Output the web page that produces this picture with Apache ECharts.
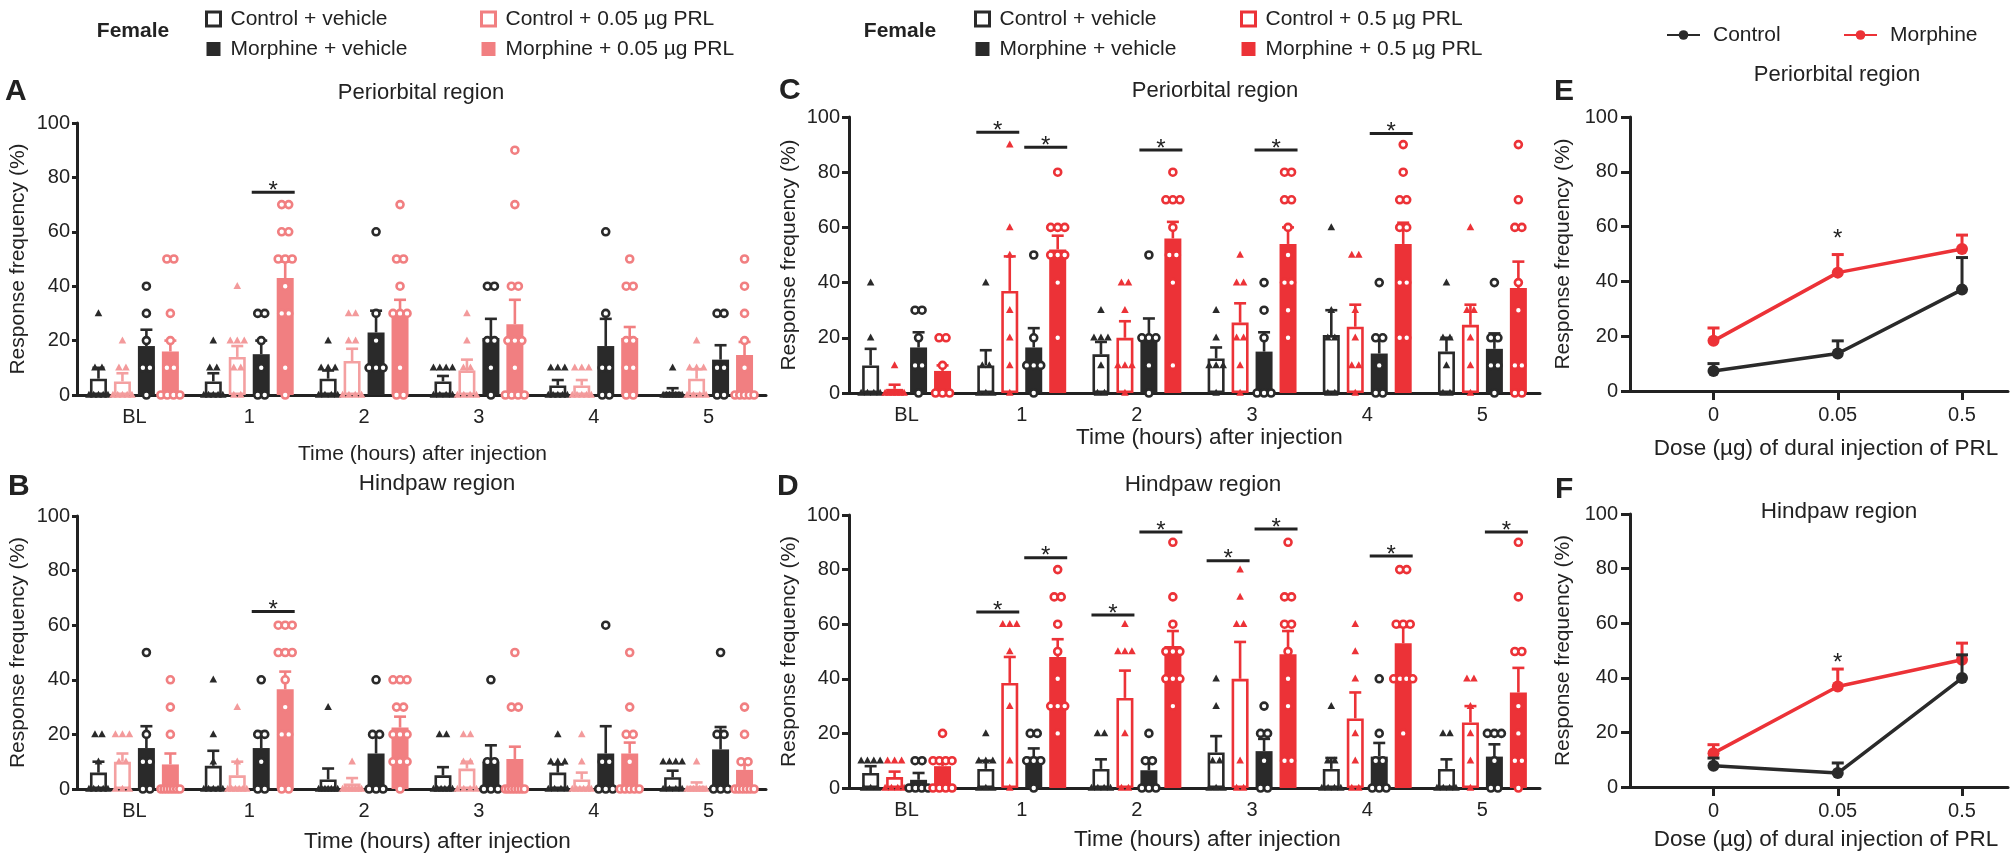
<!DOCTYPE html>
<html><head><meta charset="utf-8">
<script src="https://cdn.jsdelivr.net/npm/echarts@6/dist/echarts.min.js"></script>
<style>html,body{margin:0;padding:0;background:#fff}#c{width:2010px;height:858px}</style>
</head><body><div id="c"></div>
<script>
// ---------------- DATA ----------------
const hours = ['BL','1','2','3','4','5'];
const doseLabels = ['0','0.05','0.5'];

// Panel A (periorbital, 0.05 µg) : mean and SEM per time point
const A_CV_mean = [6,5,6,5,3.5,1.2];      const A_CV_sem = [4,3,3,2,2,1.3];
const A_CP_mean = [5,14,12.5,9,3.5,6];    const A_CP_sem = [3,4,4.5,4,2,3.5];
const A_MV_mean = [18,15,23,21,18,13];    const A_MV_sem = [6,5,8,7,10,5.3];
const A_MP_mean = [16,43,31,26,21,14.7];  const A_MP_sem = [4,6,4,9,4,4.8];
const A_CV_pts = [[30,10,10,0,0,0,0,0],[20,10,10,0,0,0,0,0],[20,10,10,10,0,0,0,0],[10,10,10,10,0,0,0,0],[10,10,10,0,0,0,0,0],[10,0,0,0,0,0,0,0]];
const A_CP_pts = [[20,10,10,0,0,0,0,0],[40,20,20,20,10,10,0,0],[30,30,20,20,0,0,0,0],[30,20,10,10,0,0,0,0],[10,10,10,0,0,0,0,0],[20,10,10,10,0,0,0,0]];
const A_MV_pts = [[40,30,20,10,10,0],[30,30,20,10,0,0],[60,30,20,10,10,10],[40,40,20,20,10,0],[60,30,10,10,0,0],[30,30,10,10,0,0]];
const A_MP_pts = [[50,50,30,20,10,10,0,0,0,0],[70,70,60,60,50,50,50,40,30,30,10,0],[70,50,50,40,30,30,30,10,0,0],[90,70,40,40,20,20,20,10,0,0,0,0],[50,40,40,20,20,10,10,0,0],[50,40,30,20,10,0,0,0,0,0]];
const A_sig = [[1,1,74.5]];

// Panel B (hindpaw, 0.05 µg)
const B_CV_mean = [6,8.5,3.5,5,6,4.3];    const B_CV_sem = [4,5.5,4,3,3,2.4];
const B_CP_mean = [10,5,2,7.5,3.5,1.2];   const B_CP_sem = [3,5,2,2.5,2.5,1.2];
const B_MV_mean = [15,15,13,10,13,14.5];  const B_MV_sem = [8,6,7,6,10,8.2];
const B_MP_mean = [9,36.5,22.5,11,13,7];  const B_MP_sem = [4,6.5,4,4.5,4,3.3];
const B_CV_pts = [[20,20,10,0,0,0,0,0],[40,20,10,0,0,0,0,0],[30,0,0,0,0,0,0,0],[20,20,0,0,0,0,0,0],[20,10,10,10,0,0,0,0],[10,10,10,10,0,0,0,0]];
const B_CP_pts = [[20,20,20,10,10,0,0,0],[30,10,0,0,0,0,0,0],[10,0,0,0,0,0,0,0],[20,20,10,10,0,0,0,0],[20,10,0,0,0,0,0,0],[10,0,0,0,0,0,0,0]];
const B_MV_pts = [[50,20,10,10,0,0],[40,20,20,10,0,0],[40,20,20,0,0,0],[40,10,10,0,0,0],[60,10,10,0,0,0],[50,20,20,0,0,0]];
const B_MP_pts = [[40,30,20,0,0,0,0,0,0,0],[60,60,60,50,50,50,40,30,20,20,0,0],[40,40,40,30,30,20,20,20,10,10,10,0],[50,30,30,0,0,0,0,0,0,0],[50,30,20,20,10,0,0,0,0,0],[30,20,10,10,0,0,0,0,0,0]];
const B_sig = [[1,1,65]];

// Panel C (periorbital, 0.5 µg)
const C_CV_mean = [10,10,14,12.5,21,15];    const C_CV_sem = [6,5.5,4.5,4,9,5];
const C_CP_mean = [1.5,37,20,25.5,24,24.7]; const C_CP_sem = [1.5,12.5,6,7,8,7.3];
const C_MV_mean = [16.5,16.5,21,15,14.3,16];const C_MV_sem = [5.5,7,6,7,6.1,5.6];
const C_MP_mean = [8,52,56,54,54,38];       const C_MP_sem = [2,5,6,6,7.7,9.6];
const C_CV_pts = [[40,20,0,0,0,0],[40,10,10,0,0,0],[30,20,20,20,10,0,0],[30,20,10,10,10,0],[60,30,20,20,0,0],[40,20,20,10,0,0]];
const C_CP_pts = [[10,0,0,0,0,0,0],[90,60,50,30,20,10,0],[40,40,30,10,10,10,0],[50,40,40,20,20,10,0],[50,50,30,20,10,10,0],[60,30,30,20,10,0]];
const C_MV_pts = [[30,30,20,10,10,0],[50,20,10,10,10,0],[50,20,20,20,10,0],[40,30,20,0,0,0],[40,20,20,10,0,0],[40,20,20,10,10,0]];
const C_MP_pts = [[20,20,10,0,0,0],[80,60,60,60,50,50,50,40,20],[80,70,70,70,60,50,50,40,10],[80,80,70,70,60,50,40,40,30,20],[90,80,70,70,60,60,40,40,20,20],[90,70,60,60,40,30,10,10,0,0]];
const C_sig = [[1,0,94.5],[1,1,89],[2,1,88],[3,1,88],[4,1,94]];

// Panel D (hindpaw, 0.5 µg)
const D_CV_mean = [5.5,7,7,13,7,7];         const D_CV_sem = [2.5,3,3.5,6,4,3.5];
const D_CP_mean = [4,38.5,33,40,25.5,24];   const D_CP_sem = [2,9.5,10,13.5,9.5,6];
const D_MV_mean = [3,11.5,6.5,13.5,11.5,11.5]; const D_MV_sem = [2.5,3,3.5,4.5,5,4.5];
const D_MP_mean = [8,48,52,49,53,35];       const D_MP_sem = [2,6.5,5.5,8.5,6,9];
const D_CV_pts = [[10,10,10,10,0,0,0],[20,10,10,10,0,0,0],[20,20,0,0,0,0],[40,30,10,10,0,0,0],[30,10,10,0,0,0,0],[20,20,0,0,0,0]];
const D_CP_pts = [[10,10,10,0,0,0,0],[60,60,60,50,30,10,0],[60,50,50,50,20,0,0],[80,70,60,60,10,0,0],[60,50,40,20,10,0,0],[40,40,30,20,10,0]];
const D_MV_pts = [[10,10,0,0,0,0],[20,20,10,10,10,0],[20,10,10,0,0,0],[30,20,20,10,0,0],[40,20,10,10,0,0,0],[20,20,20,10,0,0]];
const D_MP_pts = [[20,10,10,10,10,0,0,0,0],[80,70,70,60,50,40,30,30,30,20],[90,70,60,50,50,50,40,40,40,30],[90,70,70,60,60,50,40,30,10,10],[80,80,60,60,60,40,40,40,40,20],[90,70,50,50,30,20,10,10,0]];
const D_sig = [[1,0,64.5],[1,1,84.3],[2,0,63.4],[2,1,93.8],[3,0,83.2],[3,1,94.9],[4,1,85],[5,1,93.8]];

// Panels E, F (dose response)
const E_ctrl_mean = [7.3,13.7,37];   const E_ctrl_sem = [2.7,4.6,11.7];
const E_morph_mean = [18.3,43.2,51.8]; const E_morph_sem = [4.7,6.6,5.1];
const F_ctrl_mean = [7.8,5.1,39.9];  const F_ctrl_sem = [2.8,3.7,8.5];
const F_morph_mean = [12.4,36.8,46.6]; const F_morph_sem = [3.1,6.4,6.1];
const E_star = [[1,57]];
const F_star = [[1,47]];

// ---------------- STYLE ----------------
const FONT = '"Liberation Sans", Arial, sans-serif';
const INK = '#222222';
const BLACK = '#2a2a2a';
const PINK_OPEN = '#F4A0A1';
const PINK = '#F17F81';
const RED = '#EC3237';
const BAR_W = 17, BAR_GAP = 0.41;
function barOffset(g){ const gap = BAR_W*BAR_GAP; const total = 4*BAR_W + 3*gap; return -total/2 + g*(BAR_W+gap) + BAR_W/2; }

const names05 = ['Control + vehicle','Control + 0.05 µg PRL','Morphine + vehicle','Morphine + 0.05 µg PRL'];
const names5 = ['Control + vehicle','Control + 0.5 µg PRL','Morphine + vehicle','Morphine + 0.5 µg PRL'];

const opt = {
  animation:false, backgroundColor:'#fff',
  textStyle:{fontFamily:FONT},
  grid:[
    {left:77, top:123, width:689, height:272},
    {left:77, top:516, width:689, height:273},
    {left:849, top:117, width:691, height:276},
    {left:849, top:515, width:691, height:273},
    {left:1630, top:117, width:378, height:274},
    {left:1630, top:514, width:378, height:273}
  ],
  xAxis:[], yAxis:[], series:[], legend:[], graphic:[]
};

function yAx(gi, tickLen, margin, nameGap){
  return {type:'value', gridIndex:gi, min:0, max:100, interval:20,
    name:'Response frequency (%)', nameLocation:'middle', nameGap:nameGap,
    nameTextStyle:{fontSize:21, color:INK, fontFamily:FONT},
    axisLine:{show:true, onZero:false, lineStyle:{color:INK, width:3}},
    axisTick:{show:true, length:tickLen, lineStyle:{color:INK, width:3}},
    axisLabel:{fontSize:20, color:INK, margin:margin, fontFamily:FONT},
    splitLine:{show:false}};
}
function xCat(gi, nameGap, fs, shift){
  return {type:'category', gridIndex:gi, data:hours,
    axisLine:{lineStyle:{color:INK, width:3}},
    axisTick:{alignWithLabel:true, length:6, lineStyle:{color:INK, width:3}},
    axisLabel:{fontSize:20, color:INK, margin:12, fontFamily:FONT},
    name:'Time (hours) after injection', nameLocation:'middle', nameGap:nameGap,
    nameTextStyle:{fontSize:fs, color:INK, fontFamily:FONT, padding:[0,0,0,shift*2]}};
}

function addBarPanel(gi, c){
  opt.xAxis.push(xCat(gi, c.nameGap, c.nameFs, c.shift));
  opt.yAxis.push(yAx(gi, c.yTick, c.yMargin, c.yNameGap));
  for (let g=0; g<4; g++){
    opt.series.push({type:'bar', name:c.names[g], xAxisIndex:gi, yAxisIndex:gi, data:c.means[g],
      barWidth:BAR_W, barGap:(BAR_GAP*100)+'%', silent:true, z:2,
      itemStyle: c.open[g] ? {color:'#fff', borderColor:c.colors[g], borderWidth:2.6}
                           : {color:c.colors[g], borderColor:c.colors[g], borderWidth:0}});
  }
  const errData = [];
  for (let g=0; g<4; g++) for (let i=0;i<6;i++) errData.push([i,g,c.means[g][i],c.sems[g][i]]);
  opt.series.push({type:'custom', xAxisIndex:gi, yAxisIndex:gi, data:errData, encode:{x:0,y:2}, z:3, silent:true,
    renderItem:function(params, api){
      const i=api.value(0), g=api.value(1), m=api.value(2), s=api.value(3);
      const p0=api.coord([i,m]), p1=api.coord([i,m+s]);
      const x=p0[0]+barOffset(g); const col=c.colors[g];
      return {type:'group', children:[
        {type:'line', shape:{x1:x,y1:p0[1],x2:x,y2:p1[1]}, style:{stroke:col, lineWidth:2.6}},
        {type:'line', shape:{x1:x-6,y1:p1[1],x2:x+6,y2:p1[1]}, style:{stroke:col, lineWidth:2.6}}]};
    }});
  const ptData = [];
  for (let g=0; g<4; g++) for (let i=0;i<6;i++){
    const arr=c.pts[g][i]; const cnt={}, seen={};
    arr.forEach(v=>{cnt[v]=(cnt[v]||0)+1;});
    arr.forEach(v=>{const r=seen[v]||0; seen[v]=r+1; ptData.push([i,g,v,r,cnt[v]]);});
  }
  opt.series.push({type:'custom', xAxisIndex:gi, yAxisIndex:gi, data:ptData, encode:{x:0,y:2}, z:4, silent:true,
    renderItem:function(params, api){
      const i=api.value(0), g=api.value(1), v=api.value(2), r=api.value(3), n=api.value(4);
      const p=api.coord([i,v]);
      const sp = n>1 ? Math.min(7, 19/(n-1)) : 0;
      const x=p[0]+barOffset(g)+(r-(n-1)/2)*sp, y=p[1];
      const col=c.ptColors[g];
      if (g<2) return {type:'polygon', shape:{points:[[x,y-4.2],[x-3.8,y+2.8],[x+3.8,y+2.8]]}, style:{fill:col}};
      return {type:'circle', shape:{cx:x,cy:y,r:3.5}, style:{fill:'#fff', stroke:col, lineWidth:2.6}};
    }});
  opt.series.push({type:'custom', xAxisIndex:gi, yAxisIndex:gi, data:c.sig, encode:{x:0,y:2}, z:5, silent:true,
    renderItem:function(params, api){
      const i=api.value(0), pr=api.value(1), yv=api.value(2);
      const p=api.coord([i,yv]);
      const xa=p[0]+barOffset(pr*2)-BAR_W/2-1, xb=p[0]+barOffset(pr*2+1)+BAR_W/2+1;
      return {type:'group', children:[
        {type:'line', shape:{x1:xa,y1:p[1],x2:xb,y2:p[1]}, style:{stroke:INK, lineWidth:3}},
        {type:'text', x:(xa+xb)/2, y:p[1]-1, style:{text:'*', font:'24px '+FONT, fill:INK, align:'center', verticalAlign:'middle'}}]};
    }});
}

addBarPanel(0, {names:names05, open:[1,1,0,0], colors:[BLACK,PINK_OPEN,BLACK,PINK], ptColors:[BLACK,'#F39A9B',BLACK,PINK],
  means:[A_CV_mean,A_CP_mean,A_MV_mean,A_MP_mean], sems:[A_CV_sem,A_CP_sem,A_MV_sem,A_MP_sem],
  pts:[A_CV_pts,A_CP_pts,A_MV_pts,A_MP_pts], sig:A_sig, nameGap:49, nameFs:21, shift:1, yTick:5, yMargin:7, yNameGap:48});
addBarPanel(1, {names:names05, open:[1,1,0,0], colors:[BLACK,PINK_OPEN,BLACK,PINK], ptColors:[BLACK,'#F39A9B',BLACK,PINK],
  means:[B_CV_mean,B_CP_mean,B_MV_mean,B_MP_mean], sems:[B_CV_sem,B_CP_sem,B_MV_sem,B_MP_sem],
  pts:[B_CV_pts,B_CP_pts,B_MV_pts,B_MP_pts], sig:B_sig, nameGap:41, nameFs:22.5, shift:16, yTick:5, yMargin:7, yNameGap:48});
addBarPanel(2, {names:names5, open:[1,1,0,0], colors:[BLACK,RED,BLACK,RED], ptColors:[BLACK,RED,BLACK,RED],
  means:[C_CV_mean,C_CP_mean,C_MV_mean,C_MP_mean], sems:[C_CV_sem,C_CP_sem,C_MV_sem,C_MP_sem],
  pts:[C_CV_pts,C_CP_pts,C_MV_pts,C_MP_pts], sig:C_sig, nameGap:33, nameFs:22.5, shift:15, yTick:7, yMargin:9, yNameGap:49});
addBarPanel(3, {names:names5, open:[1,1,0,0], colors:[BLACK,RED,BLACK,RED], ptColors:[BLACK,RED,BLACK,RED],
  means:[D_CV_mean,D_CP_mean,D_MV_mean,D_MP_mean], sems:[D_CV_sem,D_CP_sem,D_MV_sem,D_MP_sem],
  pts:[D_CV_pts,D_CP_pts,D_MV_pts,D_MP_pts], sig:D_sig, nameGap:40, nameFs:22.5, shift:13, yTick:7, yMargin:9, yNameGap:49});

function addDosePanel(gi, ctrlM, ctrlS, morM, morS, star, nameGap){
  opt.xAxis.push({type:'value', gridIndex:gi, min:-0.672, max:2.37,
    axisLine:{lineStyle:{color:INK, width:3}},
    axisTick:{show:true, customValues:[0,1,2], length:9, lineStyle:{color:INK, width:3}},
    axisLabel:{customValues:[0,1,2], formatter:function(v){return doseLabels[Math.round(v)];}, fontSize:20, color:INK, margin:14, fontFamily:FONT},
    splitLine:{show:false},
    name:'Dose (µg) of dural injection of PRL', nameLocation:'middle', nameGap:nameGap,
    nameTextStyle:{fontSize:22.5, color:INK, fontFamily:FONT, padding:[0,0,0,14]}});
  opt.yAxis.push(yAx(gi, 9, 12, 56));
  const mk = arr => arr.map((v,k)=>[k,v]);
  opt.series.push({type:'line', name:'Morphine', xAxisIndex:gi, yAxisIndex:gi, data:mk(morM), symbol:'circle', symbolSize:12,
    lineStyle:{color:RED, width:3.5}, itemStyle:{color:RED}, z:3, silent:true});
  opt.series.push({type:'line', name:'Control', xAxisIndex:gi, yAxisIndex:gi, data:mk(ctrlM), symbol:'circle', symbolSize:12,
    lineStyle:{color:BLACK, width:3.5}, itemStyle:{color:BLACK}, z:5, silent:true});
  const errR = morM.map((m,k)=>[k,m,morS[k]]), errK = ctrlM.map((m,k)=>[k,m,ctrlS[k]]);
  const errRender = col => function(params, api){
    const x0=api.value(0), m=api.value(1), s=api.value(2);
    const p0=api.coord([x0,m]), p1=api.coord([x0,m+s]);
    return {type:'group', children:[
      {type:'line', shape:{x1:p0[0],y1:p0[1],x2:p0[0],y2:p1[1]}, style:{stroke:col, lineWidth:3}},
      {type:'line', shape:{x1:p0[0]-6,y1:p1[1],x2:p0[0]+6,y2:p1[1]}, style:{stroke:col, lineWidth:3}}]};
  };
  opt.series.push({type:'custom', xAxisIndex:gi, yAxisIndex:gi, data:errR, encode:{x:0,y:1}, z:4, silent:true, renderItem:errRender(RED)});
  opt.series.push({type:'custom', xAxisIndex:gi, yAxisIndex:gi, data:errK, encode:{x:0,y:1}, z:6, silent:true, renderItem:errRender(BLACK)});
  opt.series.push({type:'custom', xAxisIndex:gi, yAxisIndex:gi, data:star, encode:{x:0,y:1}, z:7, silent:true,
    renderItem:function(params, api){
      const p=api.coord([api.value(0), api.value(1)]);
      return {type:'text', x:p[0], y:p[1]+5, style:{text:'*', font:'24px '+FONT, fill:INK, align:'center', verticalAlign:'middle'}};
    }});
}
addDosePanel(4, E_ctrl_mean, E_ctrl_sem, E_morph_mean, E_morph_sem, E_star, 46);
addDosePanel(5, F_ctrl_mean, F_ctrl_sem, F_morph_mean, F_morph_sem, F_star, 41);

// legends
const legTS = {fontSize:21, color:INK, fontFamily:FONT, lineHeight:22, padding:[0,0,0,5]};
function sqLeg(left, items){
  return {left:left, top:3, orient:'vertical', itemGap:8, itemWidth:14, itemHeight:14, icon:'rect', selectedMode:false,
    textStyle:legTS, data:items};
}
const openItem = (n,col)=>({name:n, itemStyle:{color:'#fff', borderColor:col, borderWidth:3}});
const fillItem = (n,col)=>({name:n, itemStyle:{color:col, borderWidth:0}});
opt.legend.push(sqLeg(200, [openItem(names05[0],BLACK), fillItem(names05[2],BLACK)]));
opt.legend.push(sqLeg(475, [openItem(names05[1],PINK), fillItem(names05[3],PINK)]));
opt.legend.push(sqLeg(969, [openItem(names5[0],BLACK), fillItem(names5[2],BLACK)]));
opt.legend.push(sqLeg(1235, [openItem(names5[1],RED), fillItem(names5[3],RED)]));
opt.legend.push({left:1661, top:19, itemWidth:33, itemHeight:12, selectedMode:false, textStyle:Object.assign({}, legTS, {padding:[0,0,0,8]}), data:['Control']});
opt.legend.push({left:1838, top:19, itemWidth:33, itemHeight:12, selectedMode:false, textStyle:Object.assign({}, legTS, {padding:[0,0,0,8]}), data:['Morphine']});

// text labels
function txt(t, x, y, size, bold, align){
  return {type:'text', x:x, y:y, silent:true, style:{text:t, font:(bold?'bold ':'')+size+'px '+FONT, fill:INK, align:align||'center', verticalAlign:'middle'}};
}
opt.graphic = [
  txt('Female', 133, 31, 21, true), txt('Female', 900, 31, 21, true),
  txt('A', 5, 92, 30, true, 'left'), txt('B', 8, 487, 30, true, 'left'),
  txt('C', 779, 91, 30, true, 'left'), txt('D', 777, 487, 30, true, 'left'),
  txt('E', 1554, 92, 30, true, 'left'), txt('F', 1555, 490, 30, true, 'left'),
  txt('Periorbital region', 421, 93, 22), txt('Hindpaw region', 437, 484, 22.5),
  txt('Periorbital region', 1215, 91, 22), txt('Hindpaw region', 1203, 485, 22.5),
  txt('Periorbital region', 1837, 75, 22), txt('Hindpaw region', 1839, 512, 22.5)
];

const chart = echarts.init(document.getElementById('c'), null, {renderer:'canvas', width:2010, height:858});
chart.setOption(opt);
</script>
</body></html>
